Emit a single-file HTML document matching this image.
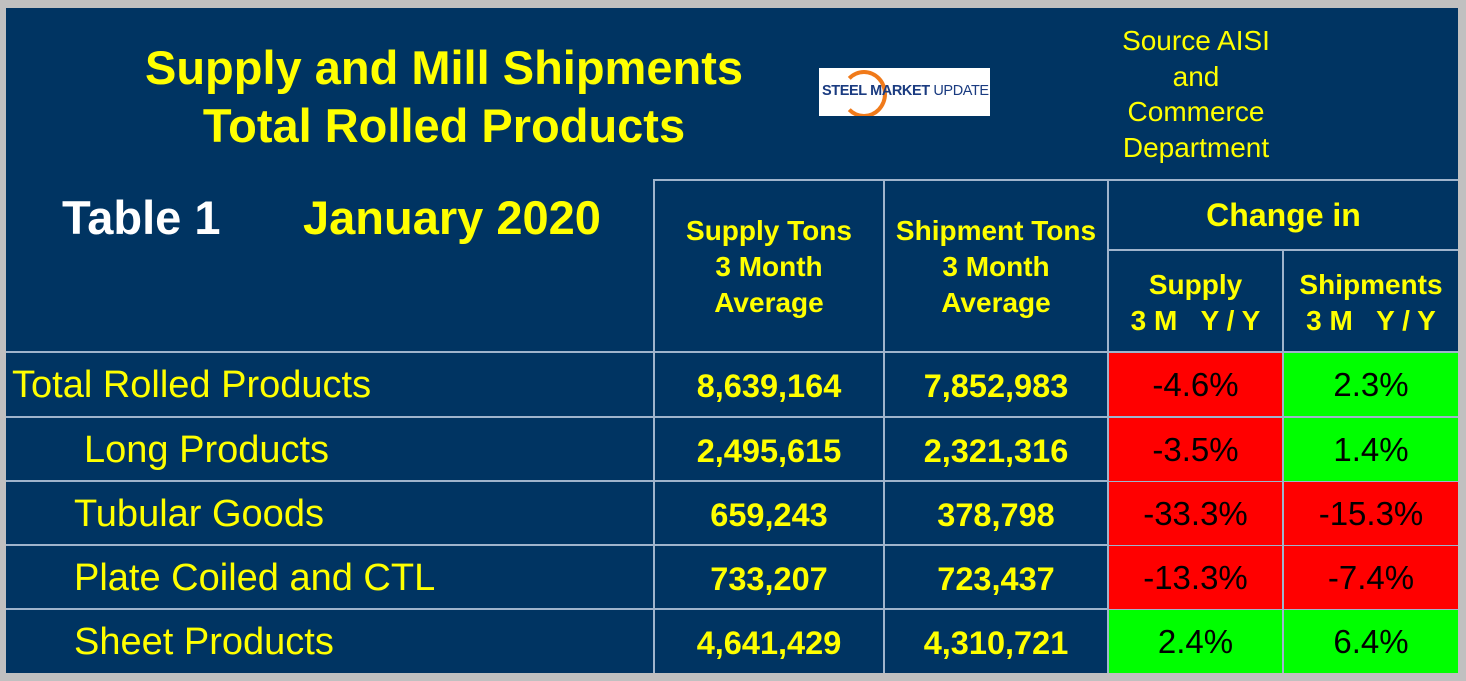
<!DOCTYPE html>
<html><head><meta charset="utf-8"><style>
body{margin:0;width:1466px;height:681px;background:#c0c0c0;overflow:hidden;font-family:"Liberation Sans",sans-serif}
#p{position:absolute;left:6px;top:8px;width:1452px;height:665px;background:#003462}
.a{position:absolute}
.t{position:absolute;color:#ffff00;text-align:center;white-space:nowrap}
.h{background:#9fb4cc}
.c{position:absolute;display:flex;align-items:center;justify-content:center;font-size:33px;color:#000}
</style></head><body>
<div id="p"></div>
<div class="t" style="left:94px;top:39px;width:700px;font-size:47px;font-weight:bold;line-height:58px">Supply and Mill Shipments<br>Total Rolled Products</div>
<div class="a" style="left:819px;top:68px;width:171px;height:48px;background:#fff;overflow:hidden">
<div class="a" style="left:22px;top:2px;width:38px;height:40px;border-radius:50%;border:4px solid #f07a1a;border-left-color:transparent"></div>
<div class="a" style="left:3px;top:15px;font-size:14.5px;font-weight:bold;color:#1a3b80;white-space:nowrap;letter-spacing:-0.4px">STEEL MARKET <span style="font-weight:normal">UPDATE</span></div></div>
<div class="t" style="left:1096px;top:23px;width:200px;font-size:28px;line-height:35.5px">Source AISI<br>and<br>Commerce<br>Department</div>
<div class="t" style="left:62px;top:190px;font-size:47px;font-weight:bold;color:#fff">Table 1</div>
<div class="t" style="left:303px;top:190px;font-size:47px;font-weight:bold">January 2020</div>
<div class="a h" style="left:654px;top:179px;width:804px;height:2px"></div>
<div class="a h" style="left:1108px;top:249px;width:350px;height:2px"></div>
<div class="a h" style="left:6px;top:351px;width:1452px;height:2px"></div>
<div class="a h" style="left:6px;top:416px;width:1452px;height:2px"></div>
<div class="a h" style="left:6px;top:480px;width:1452px;height:2px"></div>
<div class="a h" style="left:6px;top:544px;width:1452px;height:2px"></div>
<div class="a h" style="left:6px;top:608px;width:1452px;height:2px"></div>
<div class="a h" style="left:653px;top:179px;width:2px;height:494px"></div>
<div class="a h" style="left:883px;top:179px;width:2px;height:494px"></div>
<div class="a h" style="left:1107px;top:179px;width:2px;height:494px"></div>
<div class="a h" style="left:1282px;top:249px;width:2px;height:424px"></div>
<div class="t" style="left:655px;top:213px;width:228px;font-size:28px;font-weight:bold;line-height:36px">Supply Tons<br>3 Month<br>Average</div>
<div class="t" style="left:885px;top:213px;width:222px;font-size:28px;font-weight:bold;line-height:36px">Shipment Tons<br>3 Month<br>Average</div>
<div class="t" style="left:1109px;top:197px;width:349px;font-size:32px;font-weight:bold">Change in</div>
<div class="t" style="left:1109px;top:267px;width:173px;font-size:28px;font-weight:bold;line-height:36px">Supply<br>3 M&nbsp;&nbsp;&nbsp;Y / Y</div>
<div class="t" style="left:1284px;top:267px;width:174px;font-size:28px;font-weight:bold;line-height:36px">Shipments<br>3 M&nbsp;&nbsp;&nbsp;Y / Y</div>
<div id="rows"></div>
<script>
const names=["Total Rolled Products","Long Products","Tubular Goods","Plate Coiled and CTL","Sheet Products"];
const indent=[12,84,74,74,74];
const supply=["8,639,164","2,495,615","659,243","733,207","4,641,429"];
const ship=["7,852,983","2,321,316","378,798","723,437","4,310,721"];
const supChg=[-4.6,-3.5,-33.3,-13.3,2.4];
const shipChg=[2.3,1.4,-15.3,-7.4,6.4];
const tops=[353,418,482,546,610];
const R=document.getElementById('rows');
function mk(cls,css,txt,name){const d=document.createElement('div');d.className=cls;d.style.cssText=css;d.textContent=txt;


R.appendChild(d);}
names.forEach((n,i)=>{const y=tops[i],h=63;
mk('t',`left:${indent[i]}px;top:${y+11}px;font-size:38px;text-align:left`,n,'row-label');
mk('t',`left:655px;top:${y+15}px;width:228px;font-size:32.5px;font-weight:bold`,supply[i],'supply-value');
mk('t',`left:885px;top:${y+15}px;width:222px;font-size:32.5px;font-weight:bold`,ship[i],'shipment-value');
mk('c',`left:1109px;top:${y}px;width:173px;height:${h}px;background:${supChg[i]<0?'#ff0000':'#00ff00'}`,supChg[i].toFixed(1)+'%','supply-change-cell');
mk('c',`left:1284px;top:${y}px;width:174px;height:${h}px;background:${shipChg[i]<0?'#ff0000':'#00ff00'}`,shipChg[i].toFixed(1)+'%','shipment-change-cell');
});
</script>
</body></html>
